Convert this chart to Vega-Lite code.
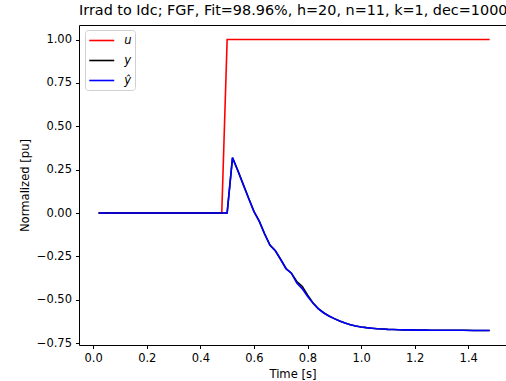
{
  "$schema": "https://vega.github.io/schema/vega-lite/v6.json",
  "autosize": {"type": "none"},
  "padding": {"left": 79, "top": 25, "right": 0, "bottom": 36},
  "width": 427,
  "height": 320,
  "background": "white",
  "title": {"text": "Irrad to Idc; FGF, Fit=98.96%, h=20, n=11, k=1, dec=1000", "font": "DejaVu Sans", "fontSize": 14.4, "fontWeight": "normal", "color": "black", "anchor": "start", "frame": "group", "offset": 6.5},
  "config": {
    "view": {"stroke": null},
    "font": "DejaVu Sans",
    "axis": {"grid": false, "domainColor": "black", "domainWidth": 1, "tickColor": "black", "tickWidth": 1, "tickSize": 3.5, "labelFont": "DejaVu Sans", "labelFontSize": 11.5, "labelColor": "black", "labelPadding": 4, "titleFont": "DejaVu Sans", "titleFontSize": 11.6, "titleFontWeight": "normal", "titleColor": "black"}
  },
  "resolve": {"axis": {"x": "independent"}},
  "data": {"values": [
    {"t": 0.02, "u": 0, "y": 0, "yhat": 0},
    {"t": 0.04, "u": 0, "y": 0, "yhat": 0},
    {"t": 0.06, "u": 0, "y": 0, "yhat": 0},
    {"t": 0.08, "u": 0, "y": 0, "yhat": 0},
    {"t": 0.10, "u": 0, "y": 0, "yhat": 0},
    {"t": 0.12, "u": 0, "y": 0, "yhat": 0},
    {"t": 0.14, "u": 0, "y": 0, "yhat": 0},
    {"t": 0.16, "u": 0, "y": 0, "yhat": 0},
    {"t": 0.18, "u": 0, "y": 0, "yhat": 0},
    {"t": 0.20, "u": 0, "y": 0, "yhat": 0},
    {"t": 0.22, "u": 0, "y": 0, "yhat": 0},
    {"t": 0.24, "u": 0, "y": 0, "yhat": 0},
    {"t": 0.26, "u": 0, "y": 0, "yhat": 0},
    {"t": 0.28, "u": 0, "y": 0, "yhat": 0},
    {"t": 0.30, "u": 0, "y": 0, "yhat": 0},
    {"t": 0.32, "u": 0, "y": 0, "yhat": 0},
    {"t": 0.34, "u": 0, "y": 0, "yhat": 0},
    {"t": 0.36, "u": 0, "y": 0, "yhat": 0},
    {"t": 0.38, "u": 0, "y": 0, "yhat": 0},
    {"t": 0.40, "u": 0, "y": 0, "yhat": 0},
    {"t": 0.42, "u": 0, "y": 0, "yhat": 0},
    {"t": 0.44, "u": 0, "y": 0, "yhat": 0},
    {"t": 0.46, "u": 0, "y": 0, "yhat": 0},
    {"t": 0.48, "u": 0, "y": 0, "yhat": 0},
    {"t": 0.50, "u": 1, "y": 0, "yhat": 0},
    {"t": 0.52, "u": 1, "y": 0.318, "yhat": 0.32},
    {"t": 0.54, "u": 1, "y": 0.245, "yhat": 0.244},
    {"t": 0.56, "u": 1, "y": 0.165, "yhat": 0.164},
    {"t": 0.58, "u": 1, "y": 0.087, "yhat": 0.085},
    {"t": 0.60, "u": 1, "y": 0.010, "yhat": 0.008},
    {"t": 0.62, "u": 1, "y": -0.048, "yhat": -0.047},
    {"t": 0.64, "u": 1, "y": -0.121, "yhat": -0.120},
    {"t": 0.66, "u": 1, "y": -0.185, "yhat": -0.186},
    {"t": 0.68, "u": 1, "y": -0.218, "yhat": -0.217},
    {"t": 0.70, "u": 1, "y": -0.268, "yhat": -0.268},
    {"t": 0.72, "u": 1, "y": -0.320, "yhat": -0.322},
    {"t": 0.74, "u": 1, "y": -0.347, "yhat": -0.347},
    {"t": 0.76, "u": 1, "y": -0.395, "yhat": -0.404},
    {"t": 0.78, "u": 1, "y": -0.422, "yhat": -0.436},
    {"t": 0.80, "u": 1, "y": -0.472, "yhat": -0.480},
    {"t": 0.82, "u": 1, "y": -0.517, "yhat": -0.519},
    {"t": 0.84, "u": 1, "y": -0.551, "yhat": -0.551},
    {"t": 0.86, "u": 1, "y": -0.575, "yhat": -0.575},
    {"t": 0.88, "u": 1, "y": -0.594, "yhat": -0.594},
    {"t": 0.90, "u": 1, "y": -0.609, "yhat": -0.609},
    {"t": 0.92, "u": 1, "y": -0.622, "yhat": -0.622},
    {"t": 0.94, "u": 1, "y": -0.634, "yhat": -0.634},
    {"t": 0.96, "u": 1, "y": -0.644, "yhat": -0.644},
    {"t": 0.98, "u": 1, "y": -0.651, "yhat": -0.651},
    {"t": 1.00, "u": 1, "y": -0.657, "yhat": -0.657},
    {"t": 1.02, "u": 1, "y": -0.661, "yhat": -0.661},
    {"t": 1.04, "u": 1, "y": -0.664, "yhat": -0.664},
    {"t": 1.06, "u": 1, "y": -0.667, "yhat": -0.667},
    {"t": 1.08, "u": 1, "y": -0.669, "yhat": -0.669},
    {"t": 1.10, "u": 1, "y": -0.671, "yhat": -0.671},
    {"t": 1.12, "u": 1, "y": -0.672, "yhat": -0.672},
    {"t": 1.14, "u": 1, "y": -0.673, "yhat": -0.673},
    {"t": 1.16, "u": 1, "y": -0.674, "yhat": -0.674},
    {"t": 1.18, "u": 1, "y": -0.674, "yhat": -0.674},
    {"t": 1.20, "u": 1, "y": -0.675, "yhat": -0.675},
    {"t": 1.22, "u": 1, "y": -0.675, "yhat": -0.675},
    {"t": 1.24, "u": 1, "y": -0.675, "yhat": -0.675},
    {"t": 1.26, "u": 1, "y": -0.676, "yhat": -0.676},
    {"t": 1.28, "u": 1, "y": -0.676, "yhat": -0.676},
    {"t": 1.30, "u": 1, "y": -0.676, "yhat": -0.676},
    {"t": 1.32, "u": 1, "y": -0.676, "yhat": -0.676},
    {"t": 1.34, "u": 1, "y": -0.676, "yhat": -0.676},
    {"t": 1.36, "u": 1, "y": -0.676, "yhat": -0.676},
    {"t": 1.38, "u": 1, "y": -0.676, "yhat": -0.676},
    {"t": 1.40, "u": 1, "y": -0.676, "yhat": -0.677},
    {"t": 1.42, "u": 1, "y": -0.677, "yhat": -0.677},
    {"t": 1.44, "u": 1, "y": -0.677, "yhat": -0.677},
    {"t": 1.46, "u": 1, "y": -0.677, "yhat": -0.677},
    {"t": 1.48, "u": 1, "y": -0.677, "yhat": -0.677}
  ]},
  "transform": [{"fold": ["u", "y", "yhat"], "as": ["series", "value"]}],
  "layer": [
    {
      "mark": {"type": "line", "strokeWidth": 1.6},
      "encoding": {
        "x": {"field": "t", "type": "quantitative", "scale": {"domain": [-0.053, 1.541], "nice": false, "zero": false},
              "axis": {"orient": "bottom", "title": "Time [s]", "values": [0, 0.2, 0.4, 0.6, 0.8, 1.0, 1.2, 1.4], "format": ".1f", "titlePadding": 4}},
        "y": {"field": "value", "type": "quantitative", "scale": {"domain": [-0.761, 1.084], "nice": false, "zero": false},
              "axis": {"title": "Normalized [pu]", "values": [-0.75, -0.5, -0.25, 0, 0.25, 0.5, 0.75, 1.0], "format": ".2f", "labelExpr": "replace(datum.label, '-', '\u2212')", "titlePadding": 6}},
        "color": {"field": "series", "type": "nominal",
                  "scale": {"domain": ["u", "y", "yhat"], "range": ["#ff0000", "#000000", "#0000ff"]},
                  "legend": {"title": null, "orient": "none", "legendX": 6, "legendY": 5, "symbolType": "M-2,0H2", "symbolSize": 156, "symbolStrokeWidth": 1.6, "symbolOffset": 6.25,
                             "labelExpr": "datum.label == 'yhat' ? '\u0177' : datum.label", "labelFont": "DejaVu Sans", "labelFontSize": 11.6, "labelFontStyle": "italic", "labelColor": "black",
                             "strokeColor": "#d0d0d0", "fillColor": "white", "cornerRadius": 3, "padding": 3, "rowPadding": 6, "labelOffset": 15}}
      }
    },
    {
      "mark": {"type": "rule", "opacity": 0},
      "encoding": {
        "x": {"field": "t", "type": "quantitative", "axis": {"orient": "top", "labels": false, "ticks": false, "title": null}}
      }
    }
  ]
}
